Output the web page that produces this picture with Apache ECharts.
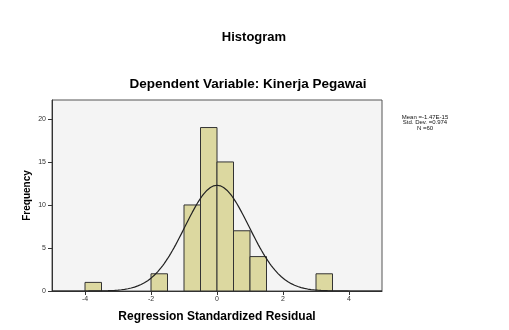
<!DOCTYPE html>
<html>
<head>
<meta charset="utf-8">
<script src="https://cdn.jsdelivr.net/npm/echarts@6/dist/echarts.min.js"></script>
<style>
html,body{margin:0;padding:0;background:#fff;}
#c{width:509px;height:330px;}
</style>
</head>
<body>
<div id="c"></div>
<script>
// Histogram bins (left edge, right edge) and counts
var binStarts = [-4, -2, -1, -0.5, 0, 0.5, 1, 3];
var binEnds   = [-3.5, -1.5, -0.5, 0, 0.5, 1, 1.5, 3.5];
var counts    = [1, 2, 10, 19, 15, 7, 4, 2];
// Summary statistics shown on the chart
var statMean = -1.47e-15;
var statSd = 0.974;
var statN = 60;
var binWidth = 0.5;
var xTicks = [-4, -2, 0, 2, 4];
var yTicks = [0, 5, 10, 15, 20];
var statLabels = ['Mean =-1.47E-15', 'Std. Dev. =0.974', 'N =60'];

// Normal curve scaled to histogram counts (defined by the displayed mean, sd, N)
var curveX = [];
for (var i = 0; i <= 200; i++) curveX.push(-5 + i * 0.05);
var curve = curveX.map(function (x) {
  var z = (x - statMean) / statSd;
  return [x, statN * binWidth * Math.exp(-0.5 * z * z) / (statSd * Math.sqrt(2 * Math.PI))];
});

var bins = binStarts.map(function (s, i) { return [s, binEnds[i], counts[i]]; });

var font = 'Liberation Sans, Arial, sans-serif';
var chart = echarts.init(document.getElementById('c'), null, {renderer: 'canvas'});
chart.setOption({
  animation: false,
  backgroundColor: '#ffffff',
  title: [
    {text: 'Histogram', left: 249, top: 26, textAlign: 'center',
     textStyle: {fontFamily: font, fontSize: 13, fontWeight: 'bold', color: '#000'}},
    {text: 'Dependent Variable: Kinerja Pegawai', left: 243, top: 72, textAlign: 'center',
     textStyle: {fontFamily: font, fontSize: 13.5, fontWeight: 'bold', color: '#000'}}
  ],
  grid: {left: 52, top: 100, right: 127, bottom: 39, show: true,
         backgroundColor: '#f4f4f4', borderColor: '#555', borderWidth: 1},
  xAxis: {
    type: 'value', min: -5, max: 5, interval: 1,
    name: 'Regression Standardized Residual', nameLocation: 'middle', nameGap: 20,
    nameTextStyle: {fontFamily: font, fontSize: 12, fontWeight: 'bold', color: '#000'},
    axisLine: {show: true, onZero: false, lineStyle: {color: '#333'}},
    axisTick: {show: true, customValues: xTicks, length: 4, lineStyle: {color: '#333'}},
    axisLabel: {customValues: xTicks, fontFamily: font, fontSize: 7, color: '#333', margin: 5},
    splitLine: {show: false}
  },
  yAxis: {
    type: 'value', min: 0, max: 22.2, interval: 5,
    name: 'Frequency', nameLocation: 'middle', nameGap: 20, nameMoveOverlap: false,
    nameTextStyle: {fontFamily: font, fontSize: 10, fontWeight: 'bold', color: '#000'},
    axisLine: {show: true, onZero: false, lineStyle: {color: '#333'}},
    axisTick: {show: true, customValues: yTicks, length: 4, lineStyle: {color: '#333'}},
    axisLabel: {customValues: yTicks, fontFamily: font, fontSize: 7, color: '#333', margin: 6},
    splitLine: {show: false}
  },
  graphic: statLabels.map(function (t, i) {
    return {type: 'text', x: 425, y: 114 + i * 5.5,
      style: {text: t, fontFamily: font, fontSize: 6, fill: '#111', align: 'center'}};
  }),
  series: [
    {
      type: 'custom',
      data: bins,
      encode: {x: [0, 1], y: 2},
      renderItem: function (params, api) {
        var p0 = api.coord([api.value(0), api.value(2)]);
        var p1 = api.coord([api.value(1), 0]);
        return {
          type: 'rect',
          shape: {x: p0[0], y: p0[1], width: p1[0] - p0[0], height: p1[1] - p0[1]},
          style: {fill: '#dcd8a0', stroke: '#333', lineWidth: 1}
        };
      }
    },
    {
      type: 'line', data: curve, showSymbol: false, symbol: 'none',
      lineStyle: {color: '#222', width: 1.2}, z: 5
    }
  ]
});
</script>
</body>
</html>
